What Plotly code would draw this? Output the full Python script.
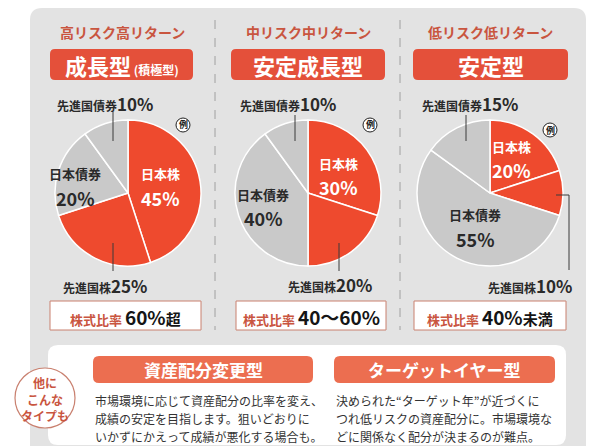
import plotly.graph_objects as go

# ---------------- data ----------------
categories = ["日本株", "先進国株", "日本債券", "先進国債券"]
growth_values = [45, 25, 20, 10]
stable_growth_values = [30, 20, 40, 10]
stable_values = [20, 10, 55, 15]

risk_titles = ["高リスク高リターン", "中リスク中リターン", "低リスク低リターン"]
type_names = ["成長型", "安定成長型", "安定型"]
type_suffix = ["(積極型)", "", ""]
stock_ratio_values = ["60%", "40〜60%", "40%"]
stock_ratio_suffix = ["超", "", "未満"]

other_titles = ["資産配分変更型", "ターゲットイヤー型"]
other_texts = [
    ["市場環境に応じて資産配分の比率を変え、", "成績の安定を目指します。狙いどおりに", "いかずにかえって成績が悪化する場合も。"],
    ["決められた“ターゲット年”が近づくに", "つれ低リスクの資産配分に。市場環境な", "どに関係なく配分が決まるのが難点。"],
]

# ---------------- styles ----------------
W, H = 600, 446
RED = "#ee4a2e"
GREY = "#c9c9c9"
slice_colors = [RED, RED, GREY, GREY]
PANEL = "#e3e3e3"
HEAD = "#c9553f"
BOX = "#e4503a"
ORANGE = "#ec6e50"
DARK = "#2a2a2a"
FONT = "Noto Sans CJK JP"


def px(x):
    return x / W


def py(y):
    return 1 - y / H


def rrect(x0, y0, x1, y1, r, fill, line=None, lw=0, layer="below"):
    p = f"M {px(x0+r)},{py(y0)} L {px(x1-r)},{py(y0)} Q {px(x1)},{py(y0)} {px(x1)},{py(y0+r)} "
    p += f"L {px(x1)},{py(y1-r)} Q {px(x1)},{py(y1)} {px(x1-r)},{py(y1)} "
    p += f"L {px(x0+r)},{py(y1)} Q {px(x0)},{py(y1)} {px(x0)},{py(y1-r)} "
    p += f"L {px(x0)},{py(y0+r)} Q {px(x0)},{py(y0)} {px(x0+r)},{py(y0)} Z"
    return dict(type="path", path=p, xref="paper", yref="paper", fillcolor=fill,
                line=dict(color=line or fill, width=lw), layer=layer)


def line(pts, color="#3a3a3a", w=1, dash="solid", layer="above"):
    p = "M " + " L ".join(f"{px(x)},{py(y)}" for x, y in pts)
    return dict(type="path", path=p, xref="paper", yref="paper",
                line=dict(color=color, width=w, dash=dash), layer=layer)


def ann(x, y, text, size=12, color=DARK, xanchor="center", weight="bold"):
    return dict(x=px(x), y=py(y), xref="paper", yref="paper", text=text, showarrow=False,
                xanchor=xanchor, yanchor="middle",
                font=dict(family=FONT, size=size, color=color, weight=weight))


fig = go.Figure()

pie_centers = [(120, 185), (300, 185), (482, 185)]
R = 73
all_values = [growth_values, stable_growth_values, stable_values]
for (cx, cy), vals in zip(pie_centers, all_values):
    fig.add_trace(go.Pie(
        labels=categories, values=vals, sort=False, direction="clockwise", rotation=0,
        marker=dict(colors=slice_colors, line=dict(color="white", width=1.5)),
        textinfo="none", hoverinfo="label+percent", showlegend=False,
        domain=dict(x=[px(cx - R), px(cx + R)], y=[py(cy + R), py(cy - R)]),
    ))

shapes = []
annotations = []

# background panel
shapes.append(rrect(22, 0, 578, 460, 12, PANEL))
# dashed separators
for x in (207, 392):
    shapes.append(line([(x, 12), (x, 322)], color="#a0a0a0", w=1, dash="dash", layer="below"))

# header boxes
col_centers = [114, 300, 482]
box_x = [(42, 185), (223, 377), (405, 560)]
for i in range(3):
    annotations.append(ann(col_centers[i], 24, risk_titles[i], size=14, color=HEAD))
    x0, x1 = box_x[i]
    shapes.append(rrect(x0, 41, x1, 72, 5, BOX, layer="below"))
    t = type_names[i]
    if type_suffix[i]:
        t += f"<span style='font-size:12px'> {type_suffix[i]}</span>"
    annotations.append(ann((x0 + x1) / 2, 57, t, size=22, color="white"))

# stock ratio boxes
ratio_x = [(42, 193), (228, 378), (406, 558)]
for i in range(3):
    x0, x1 = ratio_x[i]
    shapes.append(rrect(x0, 293, x1, 322, 0.1, "white", line="#c9806f", lw=1, layer="below"))
    t = (f"<span style='font-size:13px;color:{HEAD}'>株式比率 </span>{stock_ratio_values[i]}"
         + (f"<span style='font-size:15px'>{stock_ratio_suffix[i]}</span>" if stock_ratio_suffix[i] else ""))
    annotations.append(ann((x0 + x1) / 2, 308, t, size=19, color="#151515"))


def two(name, v):
    return f"<span style='font-size:12px'>{name}</span>{v}%"


label_pos = [
    {"先進国債券": (97, 96), "日本債券": (67, 166, 190), "日本株": (152, 166, 190), "先進国株": (97, 277)},
    {"先進国債券": (280, 95), "日本債券": (255, 186, 210), "日本株": (330, 155, 179), "先進国株": (322, 276)},
    {"先進国債券": (462, 95), "日本債券": (467, 206, 231), "日本株": (503, 138, 162), "先進国株": (522, 277)},
]
for i, vals in enumerate(all_values):
    pos = label_pos[i]
    for name, v in zip(categories, vals):
        p = pos[name]
        if len(p) == 2:
            annotations.append(ann(p[0], p[1], two(name, v), size=17, color=DARK))
        else:
            col = "white" if name == "日本株" else DARK
            annotations.append(ann(p[0], p[1], name, size=13, color=col))
            annotations.append(ann(p[0], p[2], f"{v}%", size=18, color=col))

# leader lines
shapes += [
    line([(105, 104), (105, 133)]), line([(105, 235), (105, 263)]),
    line([(287, 107), (287, 133)]), line([(331, 235), (331, 263)]),
    line([(458, 107), (458, 133)]), line([(548, 187), (561, 187), (561, 262)]),
]

# 例 marks
for (x, y) in [(175, 117), (362, 117), (542, 122)]:
    shapes.append(dict(type="circle", xref="paper", yref="paper", x0=px(x - 7), x1=px(x + 7),
                       y0=py(y + 7), y1=py(y - 7), line=dict(color="#222", width=1),
                       fillcolor="white", layer="above"))
    annotations.append(ann(x, y, "例", size=9, color="#222"))

# bottom white panel
shapes.append(rrect(40, 337, 558, 437, 10, "white", layer="below"))
# circle
shapes.append(dict(type="circle", xref="paper", yref="paper", x0=px(7), x1=px(67),
                   y0=py(420), y1=py(360), line=dict(color="#c9806f", width=1.2),
                   fillcolor="white", layer="below"))
for t, y in zip(["他に", "こんな", "タイプも"], [374, 391, 407]):
    annotations.append(ann(37, y, t, size=12, color=HEAD))

# other type boxes & texts
ob_x = [(85, 305), (326, 547)]
for i in range(2):
    x0, x1 = ob_x[i]
    shapes.append(rrect(x0, 348, x1, 375, 6, ORANGE, layer="below"))
    annotations.append(ann((x0 + x1) / 2, 361.5, other_titles[i], size=17, color="white"))
    for j, t in enumerate(other_texts[i]):
        annotations.append(ann(x0, 392 + 18 * j, t, size=12, color="#333", xanchor="left", weight="normal"))

fig.update_layout(
    width=W, height=H, margin=dict(l=0, r=0, t=0, b=0),
    paper_bgcolor="white", plot_bgcolor="white",
    shapes=shapes, annotations=annotations,
    font=dict(family=FONT),
)

fig.write_html("out.html")
